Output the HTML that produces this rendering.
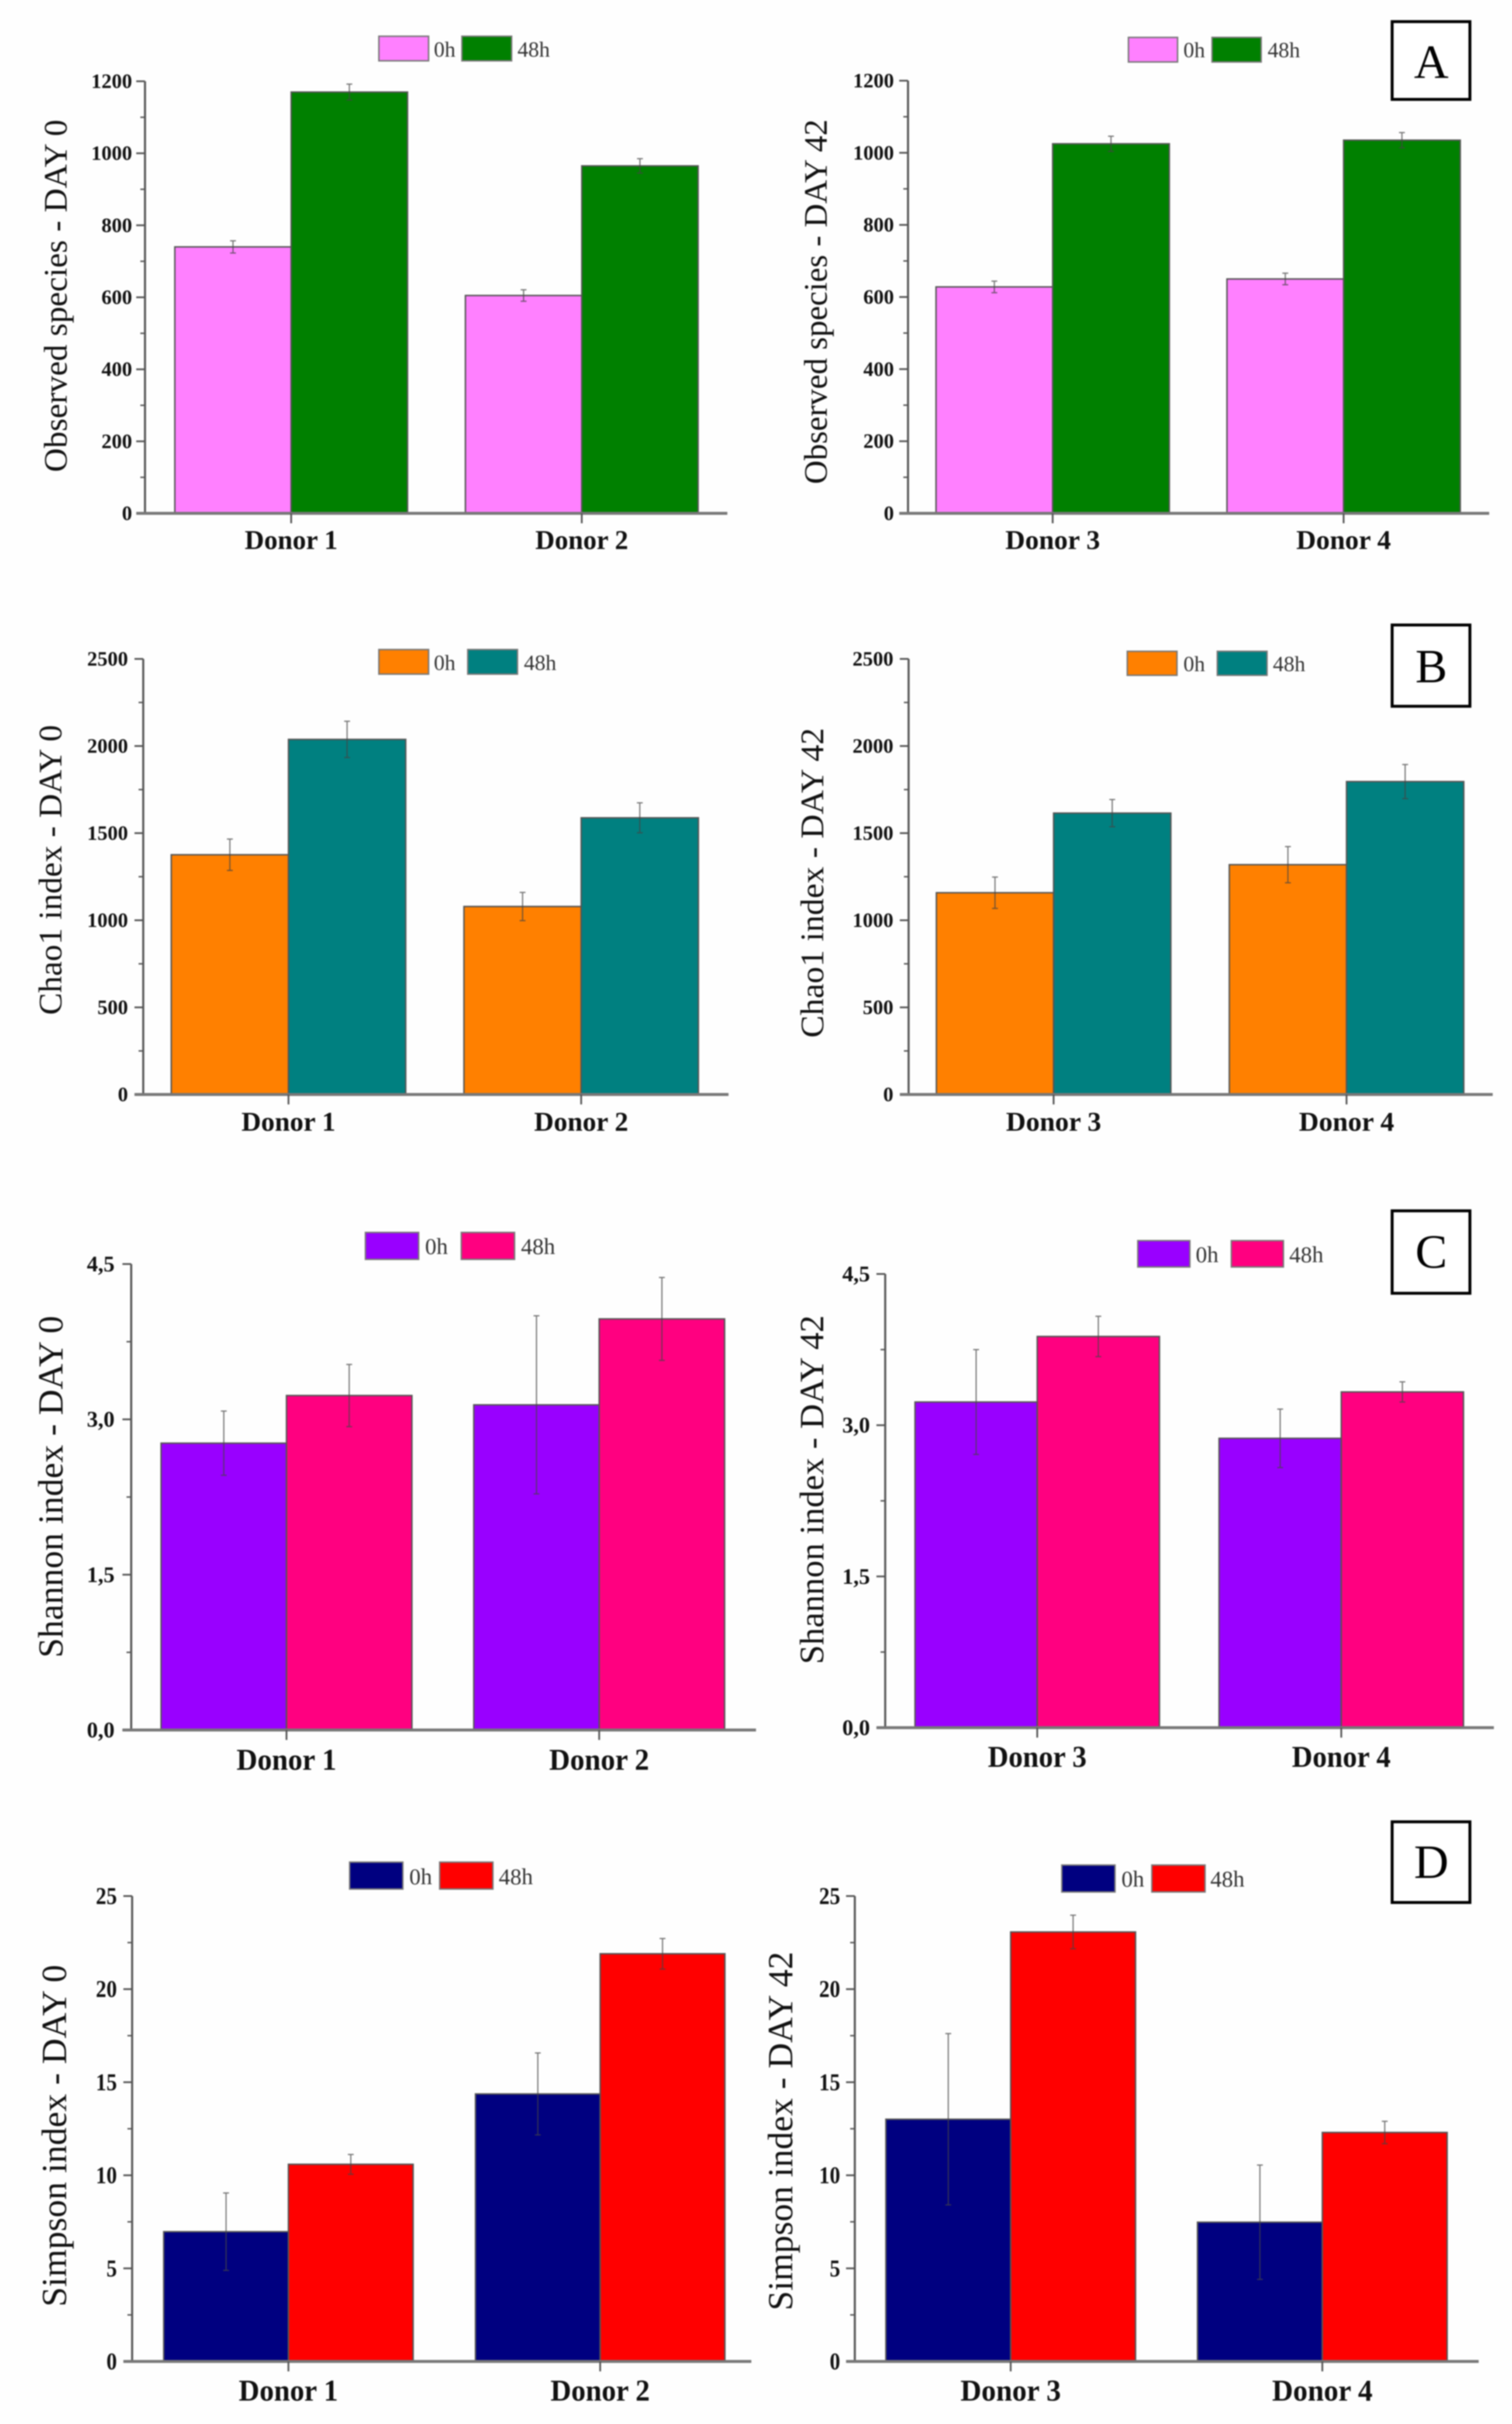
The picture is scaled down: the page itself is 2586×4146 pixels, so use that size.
<!DOCTYPE html>
<html lang="en">
<head>
<meta charset="utf-8">
<title>Alpha diversity indices by donor</title>
<style>
html,body{margin:0;padding:0;background:#fefefe;}
svg{display:block;filter:blur(1px);}
text{font-family:"Liberation Serif",serif;}
</style>
</head>
<body>
<svg id="figure" xmlns="http://www.w3.org/2000/svg" width="2586" height="4146" viewBox="0 0 2586 4146">
  <rect x="0" y="0" width="2586" height="4146" fill="#fefefe"/>
  <g>
    <rect x="2381" y="37" width="133" height="133" fill="#fff" stroke="#000" stroke-width="5"/>
    <text x="2448" y="133" font-size="82" text-anchor="middle" fill="#000">A</text>
  </g>
  <g>
    <rect x="2381" y="1069" width="133" height="139" fill="#fff" stroke="#000" stroke-width="5"/>
    <text x="2448" y="1167" font-size="82" text-anchor="middle" fill="#000">B</text>
  </g>
  <g>
    <rect x="2381" y="2071" width="133" height="141" fill="#fff" stroke="#000" stroke-width="5"/>
    <text x="2448" y="2168" font-size="82" text-anchor="middle" fill="#000">C</text>
  </g>
  <g>
    <rect x="2381" y="3116" width="133" height="138" fill="#fff" stroke="#000" stroke-width="5"/>
    <text x="2448" y="3212" font-size="82" text-anchor="middle" fill="#000">D</text>
  </g>
</svg>
<script>
// ---- Data ----
const seriesLabels = ['0h', '48h'];
const categoriesDay0 = ['Donor 1', 'Donor 2'];
const categoriesDay42 = ['Donor 3', 'Donor 4'];

const observedTicks = [0, 200, 400, 600, 800, 1000, 1200];
const observedTickLabels = ['0', '200', '400', '600', '800', '1000', '1200'];
const chaoTicks = [0, 500, 1000, 1500, 2000, 2500];
const chaoTickLabels = ['0', '500', '1000', '1500', '2000', '2500'];
const shannonTicks = [0, 1.5, 3, 4.5];
const shannonTickLabels = ['0,0', '1,5', '3,0', '4,5'];
const simpsonTicks = [0, 5, 10, 15, 20, 25];
const simpsonTickLabels = ['0', '5', '10', '15', '20', '25'];

const observedDay0Start = [740, 605];
const observedDay0End = [1170, 965];
const observedDay0StartErr = [17, 16];
const observedDay0EndErr = [22, 20];

const observedDay42Start = [628, 650];
const observedDay42End = [1025, 1035];
const observedDay42StartErr = [16, 16];
const observedDay42EndErr = [21, 21];

const chaoDay0Start = [1376, 1079];
const chaoDay0End = [2038, 1588];
const chaoDay0StartErr = [90, 81];
const chaoDay0EndErr = [104, 86];

const chaoDay42Start = [1158, 1319];
const chaoDay42End = [1615, 1796];
const chaoDay42StartErr = [90, 104];
const chaoDay42EndErr = [78, 98];

const shannonDay0Start = [2.77, 3.14];
const shannonDay0End = [3.23, 3.97];
const shannonDay0StartErr = [0.31, 0.86];
const shannonDay0EndErr = [0.30, 0.40];

const shannonDay42Start = [3.23, 2.87];
const shannonDay42End = [3.88, 3.33];
const shannonDay42StartErr = [0.52, 0.29];
const shannonDay42EndErr = [0.20, 0.10];

const simpsonDay0Start = [6.97, 14.37];
const simpsonDay0End = [10.59, 21.9];
const simpsonDay0StartErr = [2.08, 2.2];
const simpsonDay0EndErr = [0.53, 0.82];

const simpsonDay42Start = [13.01, 7.48];
const simpsonDay42End = [23.07, 12.3];
const simpsonDay42StartErr = [4.6, 3.07];
const simpsonDay42EndErr = [0.9, 0.6];

// ---- Panel definitions (data references + page layout) ----
const panels = [
  {id:'observed-day-0', title:'Observed species - DAY 0', cats:categoriesDay0, a:observedDay0Start, b:observedDay0End, ae:observedDay0StartErr, be:observedDay0EndErr, ticks:observedTicks, labels:observedTickLabels,
   colors:['#FF80FF','#008000'], axisX:248, xEnd:1244, yTop:139, y0:878, c0:498, step:497, barW:199, labelRight:226, tickFont:35, tickScale:1, catFont:47, catLen:159, catBase:939, titleX:114, titleY:506, titleLen:603, titleFont:56,
   legend:{s1:648, s2:790, w:85, y:62, h:42, t1:742, t2:885, base:97, font:37}},
  {id:'observed-day-42', title:'Observed species - DAY 42', cats:categoriesDay42, a:observedDay42Start, b:observedDay42End, ae:observedDay42StartErr, be:observedDay42EndErr, ticks:observedTicks, labels:observedTickLabels,
   colors:['#FF80FF','#008000'], axisX:1553, xEnd:2547, yTop:138, y0:878, c0:1800.4, step:497.6, barW:199.5, labelRight:1529, tickFont:35, tickScale:1, catFont:47, catLen:162, catBase:939, titleX:1414, titleY:516, titleLen:624, titleFont:56,
   legend:{s1:1930, s2:2073, w:84, y:64, h:42, t1:2024, t2:2168, base:98, font:37}},
  {id:'chao-day-0', title:'Chao1 index - DAY 0', cats:categoriesDay0, a:chaoDay0Start, b:chaoDay0End, ae:chaoDay0StartErr, be:chaoDay0EndErr, ticks:chaoTicks, labels:chaoTickLabels,
   colors:['#FF8000','#008080'], axisX:245, xEnd:1246, yTop:1127, y0:1872, c0:493.4, step:500.6, barW:200.5, labelRight:219, tickFont:35, tickScale:1, catFont:47, catLen:161, catBase:1934, titleX:105, titleY:1488, titleLen:496, titleFont:56,
   legend:{s1:648, s2:800, w:85, y:1111, h:42, t1:742, t2:896, base:1146, font:37}},
  {id:'chao-day-42', title:'Chao1 index - DAY 42', cats:categoriesDay42, a:chaoDay42Start, b:chaoDay42End, ae:chaoDay42StartErr, be:chaoDay42EndErr, ticks:chaoTicks, labels:chaoTickLabels,
   colors:['#FF8000','#008080'], axisX:1554, xEnd:2553, yTop:1127, y0:1872, c0:1802, step:501, barW:200.5, labelRight:1528, tickFont:35, tickScale:1, catFont:47, catLen:163, catBase:1934, titleX:1408, titleY:1510, titleLen:530, titleFont:56,
   legend:{s1:1928, s2:2082, w:85, y:1114, h:41, t1:2024, t2:2177, base:1148, font:37}},
  {id:'shannon-day-0', title:'Shannon index - DAY 0', cats:categoriesDay0, a:shannonDay0Start, b:shannonDay0End, ae:shannonDay0StartErr, be:shannonDay0EndErr, ticks:shannonTicks, labels:shannonTickLabels,
   colors:['#9900FF','#FF0080'], axisX:224.4, xEnd:1293, yTop:2162, y0:2959, c0:490, step:534.8, barW:214.5, labelRight:196, tickFont:38, tickScale:1, catFont:52, catLen:171, catBase:3027, titleX:107, titleY:2543, titleLen:585, titleFont:60,
   legend:{s1:625, s2:789, w:91, y:2108, h:46, t1:727, t2:891, base:2145, font:39}},
  {id:'shannon-day-42', title:'Shannon index - DAY 42', cats:categoriesDay42, a:shannonDay42Start, b:shannonDay42End, ae:shannonDay42StartErr, be:shannonDay42EndErr, ticks:shannonTicks, labels:shannonTickLabels,
   colors:['#9900FF','#FF0080'], axisX:1514, xEnd:2555, yTop:2179, y0:2955, c0:1774, step:520, barW:209, labelRight:1488, tickFont:38, tickScale:1, catFont:52, catLen:169, catBase:3022, titleX:1408, titleY:2548, titleLen:597, titleFont:58,
   legend:{s1:1946, s2:2106, w:89, y:2122, h:45, t1:2045, t2:2205, base:2159, font:39}},
  {id:'simpson-day-0', title:'Simpson index - DAY 0', cats:categoriesDay0, a:simpsonDay0Start, b:simpsonDay0End, ae:simpsonDay0StartErr, be:simpsonDay0EndErr, ticks:simpsonTicks, labels:simpsonTickLabels,
   colors:['#000080','#FF0000'], axisX:226, xEnd:1285, yTop:3243, y0:4039, c0:493.3, step:533.2, barW:213.3, labelRight:200, tickFont:41, tickScale:0.88, catFont:52, catLen:170, catBase:4106, titleX:113, titleY:3653, titleLen:585, titleFont:60,
   legend:{s1:598, s2:752, w:91, y:3185, h:46, t1:700, t2:853, base:3223, font:39}},
  {id:'simpson-day-42', title:'Simpson index - DAY 42', cats:categoriesDay42, a:simpsonDay42Start, b:simpsonDay42End, ae:simpsonDay42StartErr, be:simpsonDay42EndErr, ticks:simpsonTicks, labels:simpsonTickLabels,
   colors:['#000080','#FF0000'], axisX:1462, xEnd:2529, yTop:3243, y0:4039, c0:1728.6, step:533, barW:213.5, labelRight:1437, tickFont:41, tickScale:0.88, catFont:52, catLen:172, catBase:4106, titleX:1355, titleY:3645, titleLen:614, titleFont:60,
   legend:{s1:1816, s2:1970, w:91, y:3190, h:46, t1:1918, t2:2070, base:3227, font:39}}
];

const NS = 'http://www.w3.org/2000/svg';
const figure = document.getElementById('figure');

function make(parent, tag, attrs, content) {
  const el = document.createElementNS(NS, tag);
  for (const key in attrs) el.setAttribute(key, attrs[key]);
  if (content !== undefined) el.textContent = content;
  parent.appendChild(el);
  return el;
}

function drawPanel(p) {
  const axisColor = '#555';
  const max = p.ticks[p.ticks.length - 1];
  const yAt = v => p.y0 - (v / max) * (p.y0 - p.yTop);
  const xAt = i => p.c0 + i * p.step;

  const g = make(figure, 'g', {});
  
  

  // bars
  p.cats.forEach((cat, i) => {
    const groupKey = cat.toLowerCase().replace(' ', '-');
    const barStart = make(g, 'rect', {x: xAt(i) - p.barW, y: yAt(p.a[i]), width: p.barW, height: p.y0 - yAt(p.a[i]), fill: p.colors[0], stroke: '#555', 'stroke-width': 2.5});
    
    
    const barEnd = make(g, 'rect', {x: xAt(i), y: yAt(p.b[i]), width: p.barW, height: p.y0 - yAt(p.b[i]), fill: p.colors[1], stroke: '#555', 'stroke-width': 2.5});
    
    

    [[xAt(i) - p.barW / 2, p.a[i], p.ae[i], '0h'], [xAt(i) + p.barW / 2, p.b[i], p.be[i], '48h']].forEach(item => {
      const ex = item[0], hi = yAt(item[1] + item[2]), lo = yAt(item[1] - item[2]);
      const err = make(g, 'path', {d: 'M' + (ex - 5) + ' ' + hi + 'H' + (ex + 5) + 'M' + ex + ' ' + hi + 'V' + lo + 'M' + (ex - 5) + ' ' + lo + 'H' + (ex + 5), fill: 'none', stroke: '#444', 'stroke-width': 2, 'stroke-opacity': 0.75});
      
      
    });
  });

  // y axis
  const yAxis = make(g, 'line', {x1: p.axisX, x2: p.axisX, y1: p.yTop, y2: p.y0 + 2, stroke: axisColor, 'stroke-width': 3.5});
  
  

  p.ticks.forEach((t, i) => {
    const y = yAt(t);
    const tick = make(g, 'line', {x1: p.axisX - 15, x2: p.axisX, y1: y, y2: y, stroke: axisColor, 'stroke-width': 3});
    
    
    const label = make(g, 'text', {x: 0, y: 0, transform: 'translate(' + p.labelRight + ' ' + (y + p.tickFont * 0.33) + ') scale(' + p.tickScale + ' 1)', 'font-size': p.tickFont, 'font-weight': 'bold', 'text-anchor': 'end', fill: '#111'}, p.labels[i]);
    
    
    if (i < p.ticks.length - 1) {
      const my = yAt((t + p.ticks[i + 1]) / 2);
      const minor = make(g, 'line', {x1: p.axisX - 8, x2: p.axisX, y1: my, y2: my, stroke: axisColor, 'stroke-width': 2.5});
      
      
    }
  });

  // x axis
  const xAxis = make(g, 'line', {x1: p.axisX - 15, x2: p.xEnd, y1: p.y0, y2: p.y0, stroke: '#777', 'stroke-width': 5});
  
  

  p.cats.forEach((cat, i) => {
    const tick = make(g, 'line', {x1: xAt(i), x2: xAt(i), y1: p.y0, y2: p.y0 + 17, stroke: axisColor, 'stroke-width': 3});
    
    
    const label = make(g, 'text', {x: xAt(i), y: p.catBase, 'font-size': p.catFont, 'font-weight': 'bold', 'text-anchor': 'middle', fill: '#111', textLength: p.catLen, lengthAdjust: 'spacingAndGlyphs'}, cat);
    
    
  });

  // y title
  const title = make(g, 'text', {x: p.titleX, y: p.titleY, 'font-size': p.titleFont, 'text-anchor': 'middle', fill: '#111', transform: 'rotate(-90 ' + p.titleX + ' ' + p.titleY + ')', textLength: p.titleLen, lengthAdjust: 'spacingAndGlyphs'}, p.title);
  
  

  // legend
  const L = p.legend;
  const legend = make(g, 'g', {});
  
  
  [[L.s1, L.t1], [L.s2, L.t2]].forEach((pos, k) => {
    const swatch = make(legend, 'rect', {x: pos[0], y: L.y, width: L.w, height: L.h, fill: p.colors[k], stroke: '#777', 'stroke-width': 2.5});
    
    
    const text = make(legend, 'text', {x: pos[1], y: L.base, 'font-size': L.font, fill: '#333'}, seriesLabels[k]);
    
    
  });
}

panels.forEach(drawPanel);
</script>
</body>
</html>
